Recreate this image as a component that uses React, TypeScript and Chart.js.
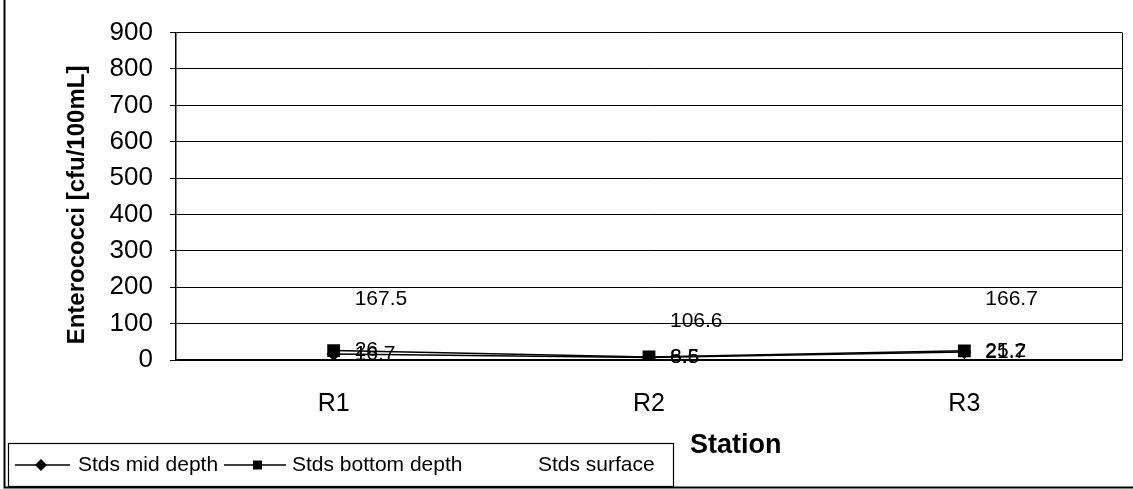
import React, { useEffect, useRef } from "react";
import { Chart, registerables } from "chart.js";

Chart.register(...registerables);

const stations = ["R1", "R2", "R3"];
const midDepth = [16.7, 6.6, 21.7];
const bottomDepth = [26, 8.5, 25.2];
const surface = [167.5, 106.6, 166.7];
const seriesNames = ["Stds mid depth", "Stds bottom depth", "Stds surface"];
const yMin = 0;
const yMax = 900;
const yStep = 100;
const yTitle = "Enterococci [cfu/100mL]";
const xTitle = "Station";

const FONT = "'Liberation Sans', Arial, sans-serif";

const decor = {
  id: "decor",
  afterDatasetsDraw(chart: any) {
    const ctx = chart.ctx;
    ctx.save();
    ctx.fillStyle = "#000";
    ctx.font = `21px ${FONT}`;
    ctx.textBaseline = "middle";
    ctx.textAlign = "left";
    chart.data.datasets.forEach((ds: any, i: number) => {
      const meta = chart.getDatasetMeta(i);
      meta.data.forEach((el: any, j: number) => {
        ctx.fillText(String(ds.data[j]), el.x + 21, el.y);
      });
    });
    ctx.restore();
  },
  afterDraw(chart: any) {
    const ctx = chart.ctx;
    const area = chart.chartArea;
    ctx.save();
    ctx.strokeStyle = "#000";
    ctx.fillStyle = "#000";
    // right border of plot area
    ctx.lineWidth = 1;
    ctx.beginPath();
    ctx.moveTo(area.right + 0.5, area.top);
    ctx.lineTo(area.right + 0.5, area.bottom);
    ctx.stroke();

    // y title
    ctx.save();
    ctx.translate(77, 205);
    ctx.rotate(-Math.PI / 2);
    ctx.font = `bold 24px ${FONT}`;
    ctx.textAlign = "center";
    ctx.textBaseline = "middle";
    ctx.fillText(yTitle, 0, 0);
    ctx.restore();

    // x title
    ctx.font = `bold 27px ${FONT}`;
    ctx.textAlign = "left";
    ctx.textBaseline = "middle";
    ctx.fillText(xTitle, 690, 446);

    // legend box
    ctx.lineWidth = 1.2;
    ctx.strokeRect(8.5, 443.5, 665, 43);
    const ly = 465;
    ctx.lineWidth = 1.5;
    // mid depth sample
    ctx.beginPath();
    ctx.moveTo(15, ly);
    ctx.lineTo(70, ly);
    ctx.stroke();
    ctx.beginPath();
    ctx.moveTo(41, ly - 6);
    ctx.lineTo(47, ly);
    ctx.lineTo(41, ly + 6);
    ctx.lineTo(35, ly);
    ctx.closePath();
    ctx.fill();
    // bottom depth sample
    ctx.beginPath();
    ctx.moveTo(224, ly);
    ctx.lineTo(286, ly);
    ctx.stroke();
    ctx.fillRect(253, ly - 4.5, 9, 9);

    ctx.font = `21px ${FONT}`;
    ctx.textBaseline = "middle";
    ctx.fillText(seriesNames[0], 78, ly);
    ctx.fillText(seriesNames[1], 292, ly);
    ctx.fillText(seriesNames[2], 538, ly);

    // outer frame (left and bottom)
    ctx.lineWidth = 2;
    ctx.beginPath();
    ctx.moveTo(4.5, 0);
    ctx.lineTo(4.5, 487.5);
    ctx.lineTo(1133, 487.5);
    ctx.stroke();
    ctx.restore();
  },
};

export default function App() {
  const ref = useRef<HTMLCanvasElement | null>(null);

  useEffect(() => {
    if (!ref.current) return;
    const chart = new Chart(ref.current, {
      type: "line",
      data: {
        labels: stations,
        datasets: [
          {
            label: seriesNames[0],
            data: midDepth,
            borderColor: "#000",
            backgroundColor: "#000",
            borderWidth: 1.5,
            pointStyle: "rectRot",
            pointRadius: 6,
            pointBackgroundColor: "#000",
            tension: 0,
          },
          {
            label: seriesNames[1],
            data: bottomDepth,
            borderColor: "#000",
            backgroundColor: "#000",
            borderWidth: 1.5,
            pointStyle: "rect",
            pointRadius: 8,
            pointBackgroundColor: "#000",
            tension: 0,
          },
          {
            label: seriesNames[2],
            data: surface,
            borderColor: "rgba(0,0,0,0)",
            backgroundColor: "rgba(0,0,0,0)",
            showLine: false,
            pointRadius: 0,
            pointHoverRadius: 0,
          },
        ],
      },
      options: {
        animation: false,
        responsive: false,
        events: [],
        layout: { padding: { left: 0, right: 11, top: 23, bottom: 0 } },
        plugins: {
          legend: { display: false },
          tooltip: { enabled: false },
          title: { display: false },
        },
        scales: {
          x: {
            type: "category",
            offset: true,
            grid: { display: false },
            border: { display: true, color: "#000", width: 1.5 },
            ticks: {
              color: "#000",
              font: { family: FONT, size: 25 },
              padding: 21,
              maxRotation: 0,
            },
            afterFit: (s: any) => {
              s.height = 129;
            },
          },
          y: {
            min: yMin,
            max: yMax,
            grid: {
              color: "#000",
              lineWidth: 1,
              tickLength: 6,
              drawTicks: true,
            },
            border: { display: true, color: "#000", width: 1.5 },
            ticks: {
              stepSize: yStep,
              autoSkip: false,
              color: "#000",
              font: { family: FONT, size: 26 },
              padding: 17,
            },
            afterFit: (s: any) => {
              s.width = 176;
            },
          },
        },
      },
      plugins: [decor],
    });
    return () => chart.destroy();
  }, []);

  return (
    <div
      style={{
        position: "absolute",
        left: 0,
        top: 0,
        width: 1133,
        height: 489,
        background: "#fff",
      }}
    >
      <canvas ref={ref} width={1133} height={489} style={{ display: "block" }} />
    </div>
  );
}
